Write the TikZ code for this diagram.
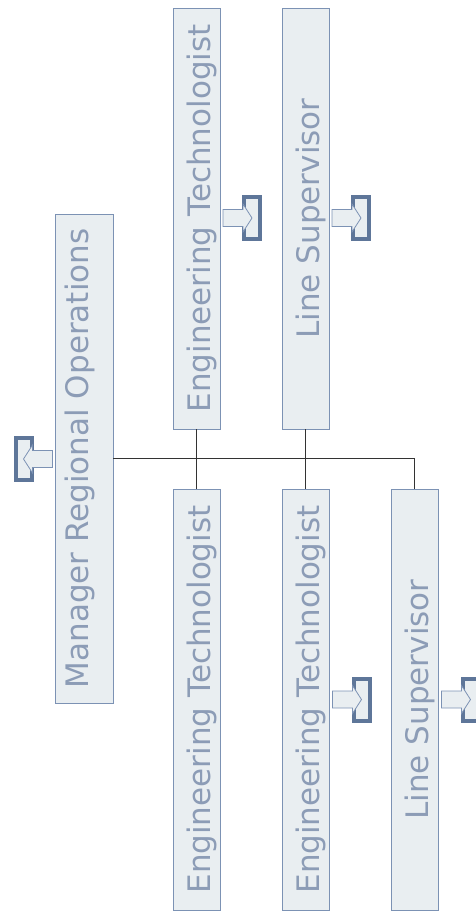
\documentclass[tikz,border=0pt]{standalone}
\usepackage{fontspec}
\setmainfont{DejaVu Sans}
\definecolor{postfill}{RGB}{233,238,241}
\definecolor{postline}{RGB}{124,146,180}
\definecolor{posttext}{RGB}{140,156,182}
\definecolor{tagline}{RGB}{94,118,153}

\begin{document}
\begin{tikzpicture}[
    x=1pt, y=-1pt,
    post/.style={draw=postline, fill=postfill, rotate=90, inner sep=0pt,
                 minimum width=421pt, minimum height=47pt,
                 text height=27pt, text depth=0pt,
                 text=posttext, font=\fontsize{31}{36}\selectfont},
    tag/.style={draw=tagline, line width=4pt, fill=postfill, inner sep=0pt,
                minimum width=16pt, minimum height=42pt},
    ptr/.style={draw=postline, fill=postfill, line width=0.8pt},
    pointer/.pic={\draw[ptr] (0,0) -- (-9,-14) -- (-9,-8.5) -- (-29,-8.5)
                  -- (-29,8.5) -- (-9,8.5) -- (-9,14) -- cycle;},
    link/.style={draw=black!80, line width=1pt}
  ]
  \useasboundingbox (0,0) rectangle (475,913);
  % manager and the posts under it
  \node[post, minimum width=489pt, minimum height=58pt, text height=23pt, text depth=15pt]
    (mgr) at (84,458.5) {Manager Regional Operations};
  \node[post] (et1) at (196.5,218.5) {Engineering Technologist};
  \node[post] (ls1) at (305.5,218.5) {Line Supervisor};
  \node[post] (et2) at (196.5,699.5) {Engineering Technologist};
  \node[post] (et3) at (305.5,699.5) {Engineering Technologist};
  \node[post] (ls2) at (414.5,699.5) {Line Supervisor};
  \draw[link] (mgr.south) -- (mgr.south -| ls2.center) -- (ls2.east);
  \draw[link] (et1.west) -- (et2.east);
  \draw[link] (ls1.west) -- (et3.east);
  % collapse markers
  \node[tag] (tmgr) at (23.5,459) {};
  \pic[xscale=-1] at (tmgr.center) {pointer};
  \node[tag] (tet1) at (252,218) {};
  \pic at (tet1.center) {pointer};
  \node[tag] (tls1) at (361,218) {};
  \pic at (tls1.center) {pointer};
  \node[tag] (tet3) at (361.5,699.5) {};
  \pic at (tet3.center) {pointer};
  \node[tag] (tls2) at (470.5,699.5) {};
  \pic at (tls2.center) {pointer};
\end{tikzpicture}
\end{document}
